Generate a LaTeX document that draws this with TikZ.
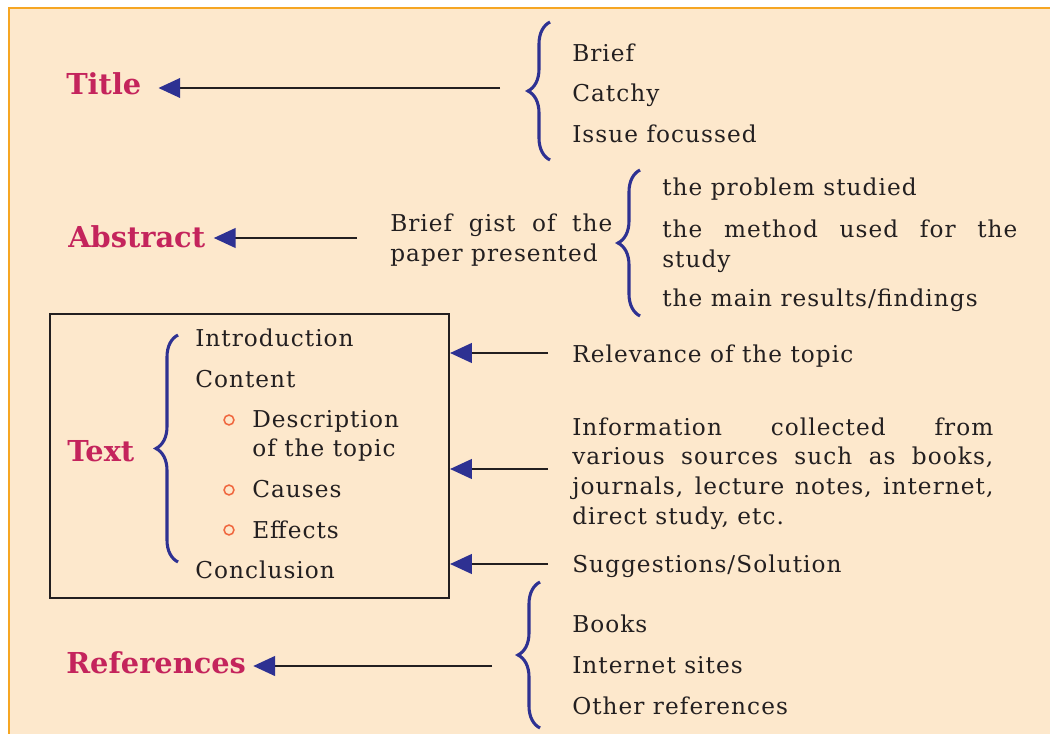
\documentclass[tikz,border=0pt]{standalone}
\usepackage{fontspec}
\setmainfont{DejaVu Serif}
\newfontfamily\bodyfont[LetterSpace=4.5]{DejaVu Serif}
\usetikzlibrary{arrows.meta,decorations.pathreplacing}

\definecolor{peach}{HTML}{FDE8CC}
\definecolor{frameorange}{HTML}{F6A623}
\definecolor{crimson}{HTML}{C4245C}
\definecolor{inkblue}{HTML}{2E3192}
\definecolor{ringorange}{HTML}{F0673F}
\definecolor{inkgrey}{HTML}{231F20}

\begin{document}
\begin{tikzpicture}[x=0.025cm,y=-0.025cm,
    head/.style={font=\bfseries\fontsize{20.5}{24}\selectfont, text=crimson, anchor=base west, inner sep=0pt},
    item/.style={font=\bodyfont\fontsize{16.5}{21.3}\selectfont, text=inkgrey, anchor=base west, inner sep=0pt},
    para/.style={item, text width=#1, align=justify},
    cbrace/.style={draw=inkblue, line width=2.2pt, decorate, decoration={brace, amplitude=0.55cm}},
    link/.style={draw=inkgrey, line width=1.4pt, -{Triangle[length=15.5pt,width=14pt,color=inkblue]}},
    ring/.style={circle, draw=ringorange, line width=1.1pt, minimum size=7pt, inner sep=0pt}]

        \useasboundingbox (0,0) rectangle (1050,734);
        \fill[white] (0,0) rectangle (1050,734);
        \fill[peach] (9,8) rectangle (1050,734);
        \draw[frameorange, line width=2pt] (9,734) -- (9,8) -- (1050,8);

        % title
        \node[head] (title) at (66,95) {Title};
        \coordinate (tlfrom) at (500,88);
        \draw[link] (tlfrom) -- ([xshift=12pt]title.east |- tlfrom);
        \draw[cbrace] (550,160) -- (550,22);
        \node[item] (brief) at (572,62) {Brief};
        \node[item] (catchy) at (572,102) {Catchy};
        \node[item] (issue) at (572,143) {Issue focussed};

        % abstract
        \node[head] (abstract) at (68,248) {Abstract};
        \coordinate (abfrom) at (357,238);
        \draw[link] (abfrom) -- ([xshift=6pt]abstract.east |- abfrom);
        \node[para=5.55cm] (gist) at (390,232) {Brief gist of the\linebreak paper presented};
        \draw[cbrace] (640,316) -- (640,170);
        \node[item] (problem) at (662,196) {the problem studied};
        \node[para=8.875cm] (method) at (662,238) {the method used for the\linebreak study};
        \node[item] (results) at (662,307) {the main results/findings};

        % text box
        \node[draw=inkgrey, line width=1.4pt, minimum width=9.975cm, minimum height=7.1cm, inner sep=0pt] (textbox) at (249.5,456) {};
        \node[head] (text) at (67,461) {Text};
        \draw[cbrace] (178,562) -- (178,335);
        \node[item] (intro) at (195,346) {Introduction};
        \node[item] (content) at (195,387) {Content};
        \node[ring] (ring1) at (229,420) {};
        \node[para=4.5cm] (desc) at (252,427) {Description\linebreak of the topic};
        \node[ring] (ring2) at (229,490) {};
        \node[item] (causes) at (252,497) {Causes};
        \node[ring] (ring3) at (229,530) {};
        \node[item] (effects) at (252,538) {Effects};
        \node[item] (concl) at (195,578) {Conclusion};

        % what goes into the text
        \coordinate (relfrom) at (548,353);
        \coordinate (infofrom) at (548,469);
        \coordinate (suggfrom) at (548,564);
        \draw[link] (relfrom) -- (textbox.east |- relfrom);
        \draw[link] (infofrom) -- (textbox.east |- infofrom);
        \draw[link] (suggfrom) -- (textbox.east |- suggfrom);
        \node[item] (relevance) at (572,362) {Relevance of the topic};
        \node[para=10.525cm] (info) at (572,435) {Information collected from\linebreak various sources such as books,\linebreak journals, lecture notes, internet,\linebreak direct study, etc.};
        \node[item] (sugg) at (572,572) {Suggestions/Solution};

        % references
        \node[head] (refs) at (66,673) {References};
        \coordinate (rffrom) at (492,666);
        \draw[link] (rffrom) -- ([xshift=5pt]refs.east |- rffrom);
        \draw[cbrace] (540,728) -- (540,582);
        \node[item] (books) at (572,632) {Books};
        \node[item] (sites) at (572,673) {Internet sites};
        \node[item] (others) at (572,714) {Other references};
      \end{tikzpicture}
\end{document}
